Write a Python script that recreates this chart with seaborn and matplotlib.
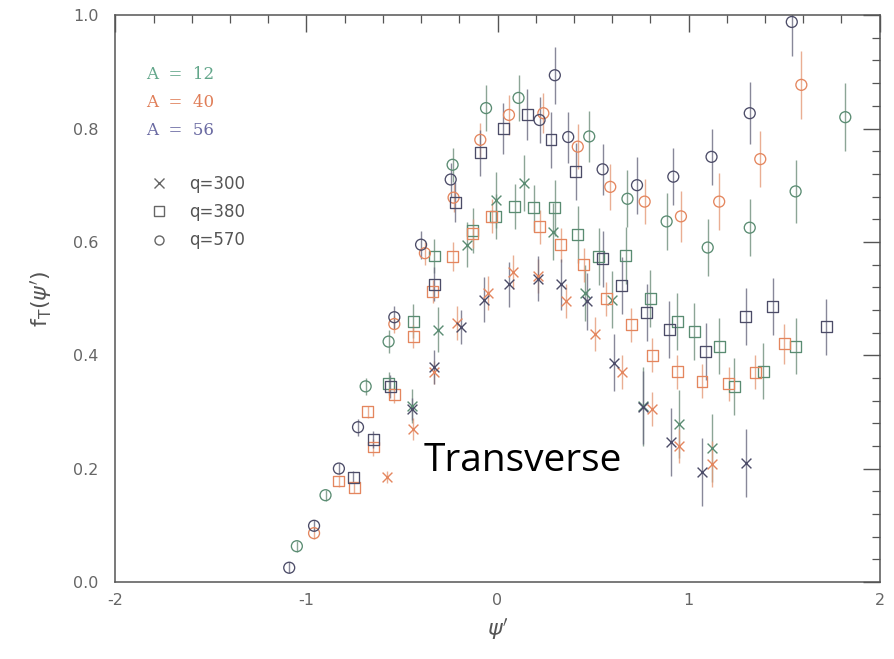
import numpy as np
import pandas as pd
import seaborn as sns
import matplotlib
matplotlib.use("Agg")
import matplotlib.pyplot as plt
from matplotlib.lines import Line2D
from matplotlib.ticker import MultipleLocator, FuncFormatter, FormatStrFormatter

# ---- measured transverse response f_T(psi') ----
# A = 12
a12_q300_x = [-0.45, -0.31, -0.16, -0.01, 0.14, 0.29, 0.46, 0.60, 0.76, 0.95, 1.125]
a12_q300_y = [0.31, 0.445, 0.595, 0.674, 0.704, 0.618, 0.51, 0.498, 0.31, 0.278, 0.237]
a12_q300_e = [0.03, 0.04, 0.04, 0.05, 0.05, 0.05, 0.05, 0.05, 0.07, 0.06, 0.06]

a12_q380_x = [-0.57, -0.44, -0.33, -0.13, -0.01, 0.09, 0.19, 0.30, 0.42, 0.53, 0.67, 0.80, 0.94, 1.03, 1.16, 1.24, 1.39, 1.56]
a12_q380_y = [0.35, 0.46, 0.575, 0.62, 0.645, 0.662, 0.66, 0.66, 0.613, 0.574, 0.576, 0.50, 0.46, 0.442, 0.416, 0.345, 0.372, 0.416]
a12_q380_e = [0.02, 0.03, 0.03, 0.04, 0.04, 0.04, 0.04, 0.05, 0.05, 0.05, 0.05, 0.05, 0.05, 0.05, 0.05, 0.05, 0.05, 0.05]

a12_q570_x = [-1.05, -0.90, -0.69, -0.57, -0.235, -0.06, 0.11, 0.48, 0.68, 0.885, 1.10, 1.32, 1.56, 1.82]
a12_q570_y = [0.063, 0.153, 0.345, 0.424, 0.736, 0.836, 0.854, 0.786, 0.676, 0.636, 0.59, 0.625, 0.689, 0.82]
a12_q570_e = [0.01, 0.01, 0.015, 0.02, 0.03, 0.04, 0.04, 0.045, 0.05, 0.05, 0.05, 0.05, 0.055, 0.06]

# A = 40
a40_q300_x = [-0.58, -0.44, -0.33, -0.21, -0.05, 0.08, 0.21, 0.36, 0.51, 0.65, 0.81, 0.95, 1.125]
a40_q300_y = [0.185, 0.27, 0.37, 0.457, 0.51, 0.546, 0.539, 0.495, 0.437, 0.37, 0.305, 0.24, 0.208]
a40_q300_e = [0.01, 0.02, 0.02, 0.03, 0.03, 0.03, 0.03, 0.03, 0.03, 0.03, 0.03, 0.03, 0.04]

a40_q380_x = [-0.83, -0.75, -0.68, -0.65, -0.54, -0.44, -0.34, -0.235, -0.13, -0.03, 0.22, 0.33, 0.45, 0.57, 0.70, 0.81, 0.94, 1.07, 1.21, 1.35, 1.50]
a40_q380_y = [0.178, 0.167, 0.30, 0.238, 0.33, 0.433, 0.512, 0.574, 0.615, 0.645, 0.627, 0.595, 0.56, 0.50, 0.454, 0.40, 0.371, 0.354, 0.35, 0.37, 0.42]
a40_q380_e = [0.01, 0.01, 0.01, 0.015, 0.015, 0.02, 0.02, 0.025, 0.025, 0.03, 0.03, 0.03, 0.03, 0.03, 0.03, 0.03, 0.03, 0.03, 0.03, 0.03, 0.035]

a40_q570_x = [-0.96, -0.54, -0.38, -0.23, -0.09, 0.06, 0.24, 0.42, 0.59, 0.77, 0.96, 1.16, 1.375, 1.59]
a40_q570_y = [0.086, 0.455, 0.58, 0.678, 0.78, 0.824, 0.827, 0.768, 0.697, 0.671, 0.645, 0.671, 0.746, 0.877]
a40_q570_e = [0.01, 0.015, 0.02, 0.025, 0.03, 0.035, 0.035, 0.04, 0.04, 0.04, 0.045, 0.05, 0.05, 0.06]

# A = 56
a56_q300_x = [-0.45, -0.33, -0.19, -0.07, 0.06, 0.21, 0.33, 0.47, 0.61, 0.76, 0.91, 1.07, 1.30]
a56_q300_y = [0.305, 0.38, 0.45, 0.498, 0.525, 0.535, 0.525, 0.495, 0.387, 0.308, 0.246, 0.194, 0.21]
a56_q300_e = [0.02, 0.03, 0.03, 0.04, 0.04, 0.04, 0.045, 0.05, 0.05, 0.065, 0.06, 0.06, 0.06]

a56_q380_x = [-0.755, -0.65, -0.56, -0.33, -0.22, -0.09, 0.03, 0.155, 0.28, 0.41, 0.55, 0.65, 0.78, 0.90, 1.09, 1.30, 1.44, 1.72]
a56_q380_y = [0.185, 0.252, 0.345, 0.525, 0.67, 0.757, 0.80, 0.824, 0.78, 0.724, 0.57, 0.523, 0.475, 0.445, 0.407, 0.468, 0.486, 0.45]
a56_q380_e = [0.01, 0.015, 0.02, 0.03, 0.035, 0.04, 0.045, 0.045, 0.05, 0.05, 0.05, 0.05, 0.05, 0.05, 0.05, 0.05, 0.05, 0.05]

a56_q570_x = [-1.09, -0.96, -0.83, -0.73, -0.54, -0.40, -0.245, 0.22, 0.30, 0.37, 0.55, 0.73, 0.92, 1.12, 1.32, 1.54]
a56_q570_y = [0.025, 0.099, 0.20, 0.273, 0.467, 0.595, 0.71, 0.815, 0.894, 0.785, 0.728, 0.70, 0.715, 0.75, 0.827, 0.988]
a56_q570_e = [0.01, 0.01, 0.01, 0.015, 0.02, 0.025, 0.03, 0.04, 0.05, 0.045, 0.045, 0.05, 0.05, 0.05, 0.055, 0.06]

nuclei = ["12", "40", "56"]
momenta = ["300", "380", "570"]

series = {
    ("12", "300"): (a12_q300_x, a12_q300_y, a12_q300_e),
    ("12", "380"): (a12_q380_x, a12_q380_y, a12_q380_e),
    ("12", "570"): (a12_q570_x, a12_q570_y, a12_q570_e),
    ("40", "300"): (a40_q300_x, a40_q300_y, a40_q300_e),
    ("40", "380"): (a40_q380_x, a40_q380_y, a40_q380_e),
    ("40", "570"): (a40_q570_x, a40_q570_y, a40_q570_e),
    ("56", "300"): (a56_q300_x, a56_q300_y, a56_q300_e),
    ("56", "380"): (a56_q380_x, a56_q380_y, a56_q380_e),
    ("56", "570"): (a56_q570_x, a56_q570_y, a56_q570_e),
}

rows = []
for (a, q), (xs, ys, es) in series.items():
    for x, y, e in zip(xs, ys, es):
        rows.append({"A": a, "q": q, "psi": x, "fT": y, "err": e})
df = pd.DataFrame(rows)

marker_color = {"12": "#5a8c72", "40": "#e4865e", "56": "#4c4c68"}
bar_color = {"12": "#6f8f7c", "40": "#e59a78", "56": "#6a6a80"}
label_color = {"12": "#62a68a", "40": "#e07e58", "56": "#6a6aa2"}
marker_shape = {"300": "x", "380": "s", "570": "o"}

sns.set_theme(style="white")
plt.rcParams["font.family"] = ["DejaVu Sans"]

fig = plt.figure(figsize=(8.94, 6.59), dpi=100)
ax = fig.add_axes([0.129, 0.117, 0.855, 0.860])

for a in nuclei:
    for q in momenta:
        sub = df[(df["A"] == a) & (df["q"] == q)]
        c = marker_color[a]
        ax.errorbar(sub["psi"], sub["fT"], yerr=sub["err"], fmt="none",
                    ecolor=bar_color[a], elinewidth=1.0, alpha=0.8, capsize=0, zorder=2)
        if marker_shape[q] == "x":
            sns.scatterplot(data=sub, x="psi", y="fT", marker="x", color=c,
                            s=50, linewidth=1.0, ax=ax, zorder=3, legend=False)
        else:
            sns.scatterplot(data=sub, x="psi", y="fT", marker=marker_shape[q],
                            facecolors="none", edgecolor=c, s=62, linewidth=0.95,
                            ax=ax, zorder=3, legend=False)

ax.set_xlim(-2, 2)
ax.set_ylim(0, 1.0)
ax.xaxis.set_major_locator(MultipleLocator(1))
ax.xaxis.set_minor_locator(MultipleLocator(0.2))
ax.yaxis.set_major_locator(MultipleLocator(0.2))
ax.yaxis.set_minor_locator(MultipleLocator(0.04))
ax.xaxis.set_major_formatter(FuncFormatter(lambda v, p: f"{v:.0f}"))
ax.yaxis.set_major_formatter(FormatStrFormatter("%.1f"))
ax.tick_params(which="both", direction="in", top=True, right=True, colors="#555555",
               labelsize=11.5, labelcolor="#666666")
ax.tick_params(axis="y", which="major", pad=12)
ax.tick_params(axis="x", which="major", pad=8)
ax.tick_params(which="major", length=12, width=1.0)
ax.tick_params(which="minor", length=6, width=0.9)
for sp in ax.spines.values():
    sp.set_color("#555555")
    sp.set_linewidth(1.1)

ax.set_xlabel(r"$\psi'$", fontsize=16, color="#555555", labelpad=6)
ax.set_ylabel(r"$\mathrm{f}_{\mathrm{T}}(\psi')$", fontsize=16, color="#555555", labelpad=14)

# nucleus colour key
for i, a in enumerate(nuclei):
    ax.text(0.040, 0.895 - i * 0.049, f"A  =  {a}", transform=ax.transAxes,
            color=label_color[a], fontsize=12, family="DejaVu Serif", va="center")

# momentum-transfer marker key
handles = [Line2D([], [], linestyle="none", marker="x", color="#666666", markersize=6.5, markeredgewidth=1.0),
           Line2D([], [], linestyle="none", marker="s", markerfacecolor="none", markeredgecolor="#666666", markersize=6.5),
           Line2D([], [], linestyle="none", marker="o", markerfacecolor="none", markeredgecolor="#666666", markersize=6.5)]
leg = ax.legend(handles, [f"q={q}" for q in momenta], loc="upper left",
                bbox_to_anchor=(0.025, 0.745), frameon=False, fontsize=12,
                handletextpad=1.2, labelspacing=0.62, handlelength=1.2)
for t in leg.get_texts():
    t.set_color("#555555")

ax.text(0.13, 0.213, "Transverse", fontsize=28, color="black", ha="center",
        va="center", family="Open Sans")

fig.savefig("out.png", dpi=100, facecolor="white")
